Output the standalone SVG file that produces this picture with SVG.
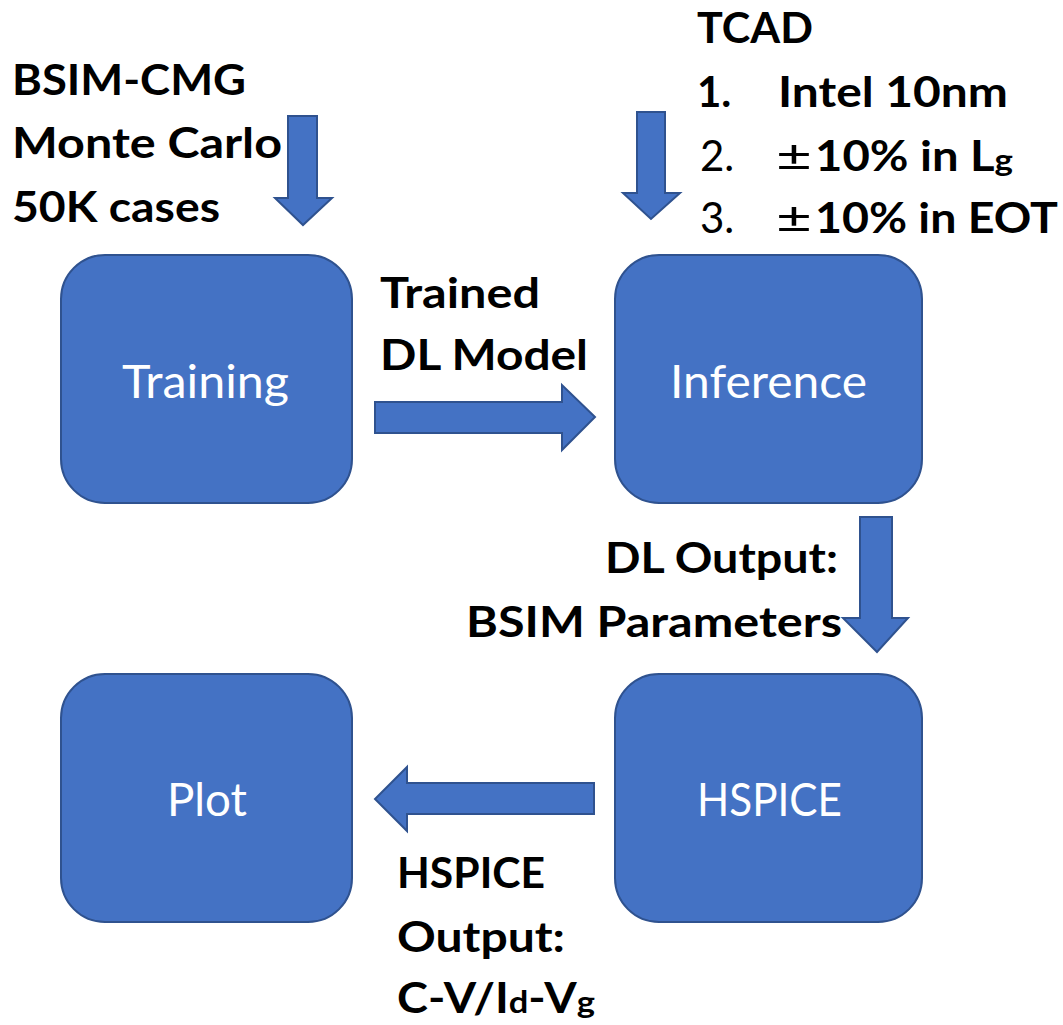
<svg xmlns="http://www.w3.org/2000/svg" width="1063" height="1025" viewBox="0 0 1063 1025">
<style>
.box{fill:#4472C4;stroke:#2F528F;stroke-width:2}
.arr{fill:#4472C4;stroke:#2F528F;stroke-width:2;stroke-linejoin:miter}
.nl{font-family:Lato,"Open Sans","Liberation Sans",sans-serif;font-size:47px;fill:#ffffff}
.lb{font-family:Lato,"Open Sans","Liberation Sans",sans-serif;font-size:42px;font-weight:bold;fill:#000000}
.lr{font-family:Lato,"Open Sans","Liberation Sans",sans-serif;font-size:42px;fill:#000000}
</style>
<rect width="1063" height="1025" fill="#ffffff"/>
<g id="connectors">
<path class="arr" d="M288,116 H317 V198 H332 L303,225 L275,198 H288 Z"/>
<path class="arr" d="M637,112 H665 V193 H680 L651,219 L623,193 H637 Z"/>
<path class="arr" d="M375,402 H562 V385 L595,417 L562,450 V433 H375 Z"/>
<path class="arr" d="M860,517 H892 V618 H908 L877,652 L843,618 H860 Z"/>
<path class="arr" d="M594,783 V814 H407 V831 L375,799 L407,767 V783 Z"/>
</g>
<g id="training">
<rect class="box" x="61" y="255" width="291" height="248" rx="44"/>
<text class="nl" x="122" y="398" textLength="167" lengthAdjust="spacingAndGlyphs">Training</text>
</g>
<g id="inference">
<rect class="box" x="615" y="255" width="307" height="248" rx="44"/>
<text class="nl" x="670" y="398" textLength="197" lengthAdjust="spacingAndGlyphs">Inference</text>
</g>
<g id="plot">
<rect class="box" x="61" y="674" width="291" height="248" rx="44"/>
<text class="nl" x="167" y="816" textLength="80" lengthAdjust="spacingAndGlyphs">Plot</text>
</g>
<g id="hspice">
<rect class="box" x="615" y="674" width="307" height="248" rx="44"/>
<text class="nl" x="697" y="816" textLength="145" lengthAdjust="spacingAndGlyphs">HSPICE</text>
</g>
<g id="label-bsim">
<text class="lb" x="12" y="95" textLength="234" lengthAdjust="spacingAndGlyphs">BSIM-CMG</text>
<text class="lb" x="12" y="158" textLength="270" lengthAdjust="spacingAndGlyphs">Monte Carlo</text>
<text class="lb" x="12" y="222" textLength="208" lengthAdjust="spacingAndGlyphs">50K cases</text>
</g>
<g id="label-tcad">
<text class="lb" x="697" y="43" textLength="116" lengthAdjust="spacingAndGlyphs">TCAD</text>
<text class="lb" x="697" y="107">1.</text>
<text class="lb" x="778" y="107" textLength="230" lengthAdjust="spacingAndGlyphs">Intel 10nm</text>
<text class="lr" x="700" y="171">2.</text>
<text class="lr" x="776" y="171" textLength="36" lengthAdjust="spacingAndGlyphs">±</text>
<text class="lb" x="815" y="171" textLength="198" lengthAdjust="spacingAndGlyphs">10% in L<tspan font-size="31">g</tspan></text>
<text class="lr" x="700" y="233">3.</text>
<text class="lr" x="776" y="233" textLength="36" lengthAdjust="spacingAndGlyphs">±</text>
<text class="lb" x="815" y="233" textLength="243" lengthAdjust="spacingAndGlyphs">10% in EOT</text>
</g>
<g id="label-trained">
<text class="lb" x="380" y="308" textLength="160" lengthAdjust="spacingAndGlyphs">Trained</text>
<text class="lb" x="380" y="370" textLength="208" lengthAdjust="spacingAndGlyphs">DL Model</text>
</g>
<g id="label-dloutput">
<text class="lb" x="605" y="573" textLength="233" lengthAdjust="spacingAndGlyphs">DL Output:</text>
<text class="lb" x="466" y="637" textLength="376" lengthAdjust="spacingAndGlyphs">BSIM Parameters</text>
</g>
<g id="label-hspice-output">
<text class="lb" x="397" y="888" textLength="148" lengthAdjust="spacingAndGlyphs">HSPICE</text>
<text class="lb" x="397" y="952" textLength="168" lengthAdjust="spacingAndGlyphs">Output:</text>
<text class="lb" x="397" y="1013" textLength="198" lengthAdjust="spacingAndGlyphs">C-V/I<tspan font-size="31">d</tspan>-V<tspan font-size="31">g</tspan></text>
</g>
</svg>
